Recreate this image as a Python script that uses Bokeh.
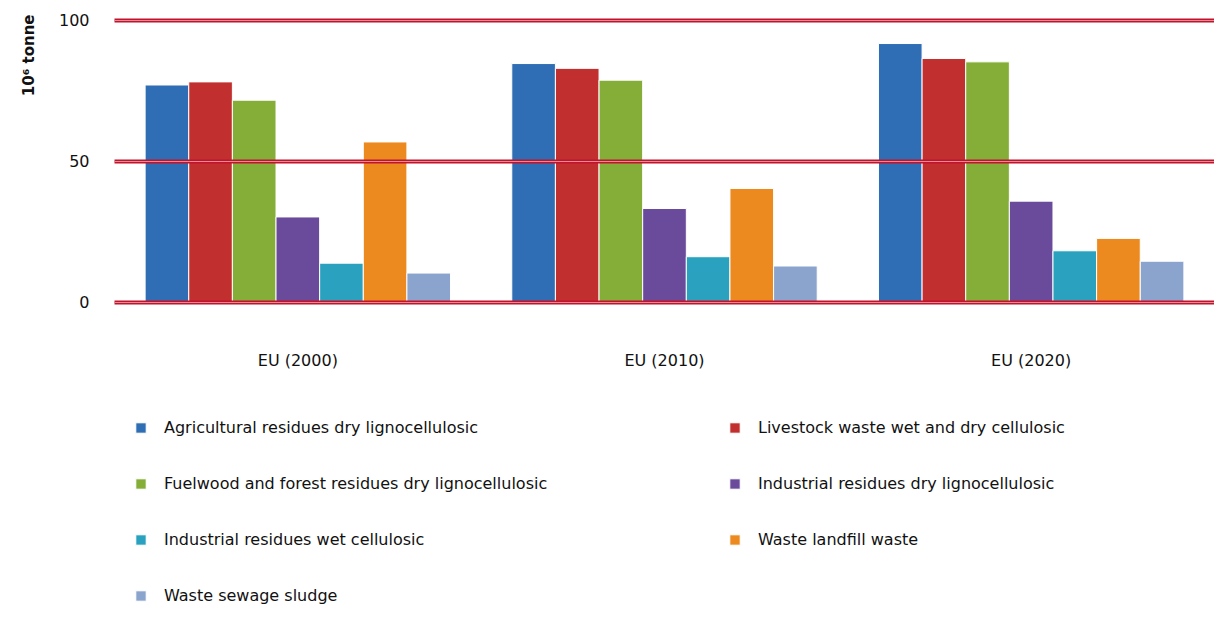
from bokeh.plotting import figure
from bokeh.models import ColumnDataSource, Legend, LegendItem, Title, Grid, FixedTicker
from bokeh.transform import dodge
from bokeh.core.properties import value
from bokeh.embed import file_html
from bokeh.resources import INLINE

regions = ["EU (2000)", "EU (2010)", "EU (2020)"]
series = [
    "Agricultural residues dry lignocellulosic",
    "Livestock waste wet and dry cellulosic",
    "Fuelwood and forest residues dry lignocellulosic",
    "Industrial residues dry lignocellulosic",
    "Industrial residues wet cellulosic",
    "Waste landfill waste",
    "Waste sewage sludge",
]
agri = [77.0, 84.6, 91.7]
livestock = [78.1, 82.9, 86.4]
fuelwood = [71.6, 78.7, 85.2]
ind_dry = [30.2, 33.2, 35.8]
ind_wet = [13.8, 16.1, 18.2]
landfill = [56.8, 40.3, 22.6]
sewage = [10.3, 12.8, 14.5]
y_ticks = [0, 50, 100]

colors = ["#2f6db4", "#c1302f", "#84ae38", "#6a4a9b", "#2aa2bf", "#ec8a1f", "#8ba4cd"]
values = [agri, livestock, fuelwood, ind_dry, ind_wet, landfill, sewage]
keys = ["s%d" % i for i in range(7)]

data = {"region": regions}
for k, v in zip(keys, values):
    data[k] = v
src = ColumnDataSource(data)

FONT = "DejaVu Sans"

p = figure(x_range=regions, y_range=(-107.6, 102), width=1214, height=605,
           output_backend="svg", toolbar_location=None,
           min_border_left=105, min_border_right=0, min_border_top=14, min_border_bottom=0)
p.outline_line_color = None
p.xaxis.visible = False

bw = 0.119
renderers = []
for i, k in enumerate(keys):
    r = p.vbar(x=dodge("region", (i - 3) * bw, range=p.x_range), top=k, width=bw,
               source=src, fill_color=colors[i], line_color="white", line_width=1)
    renderers.append(r)

# category labels under the bars
p.text(x="region", y=-20.6, text="region", source=src, text_align="center",
       text_baseline="middle", text_font=value(FONT), text_font_size="16px",
       text_color="#111111")

p.xgrid.grid_line_color = None
p.ygrid.ticker = FixedTicker(ticks=y_ticks)
p.ygrid.grid_line_color = "#c0142c"
p.ygrid.grid_line_width = 4
p.ygrid.level = "overlay"
g2 = Grid(dimension=1, ticker=FixedTicker(ticks=y_ticks), grid_line_color="#e88a96",
          grid_line_width=1.2, level="overlay")
p.add_layout(g2)

p.yaxis.ticker = FixedTicker(ticks=y_ticks)
p.yaxis.axis_line_color = None
p.yaxis.major_tick_line_color = None
p.yaxis.minor_tick_line_color = None
p.yaxis.major_label_text_font = FONT
p.yaxis.major_label_text_font_size = "16px"
p.yaxis.major_label_text_color = "#111111"
p.yaxis.major_label_standoff = 19

t = Title(text="10⁶ tonne", align="right", text_font=FONT, text_font_size="15px",
          text_font_style="bold", text_color="#111111", standoff=35)
p.add_layout(t, "left")

items = [LegendItem(label=s, renderers=[r]) for s, r in zip(series, renderers)]
leg = Legend(items=items, ncols=2, location=(20, 0), orientation="horizontal",
             label_text_font=FONT, label_text_font_size="16px", label_text_color="#111111",
             glyph_width=13, glyph_height=13, label_standoff=17, label_width=527,
             label_height=16, spacing=37, padding=0, margin=0, border_line_color=None,
             background_fill_alpha=0)
p.add_layout(leg, "center")

open("out.html", "w").write(file_html(p, INLINE))
